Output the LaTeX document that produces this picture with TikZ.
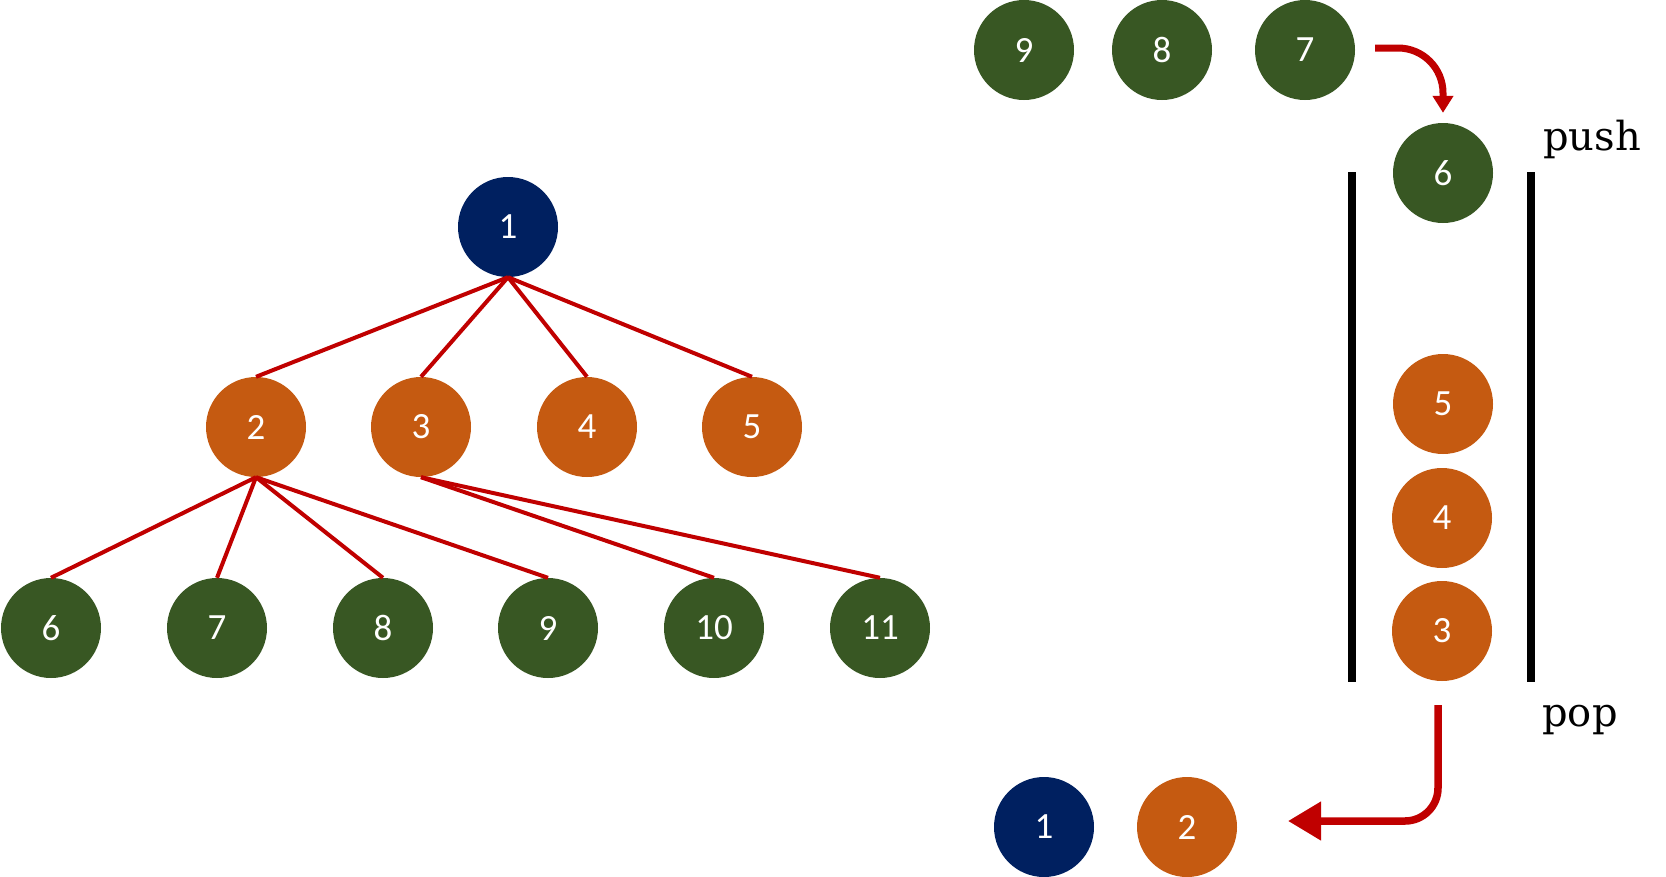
\documentclass[tikz,border=0pt]{standalone}
\usepackage{fontspec}
\setmainfont{DejaVu Serif}
\newfontfamily\digitfont{Carlito}
\usetikzlibrary{arrows.meta}
\definecolor{navyblue}{HTML}{002060}
\definecolor{rust}{HTML}{C55A11}
\definecolor{moss}{HTML}{385723}
\definecolor{darkred}{HTML}{C00000}
\begin{document}
\begin{tikzpicture}[x=1pt, y=-1pt,
    ball/.style={circle, minimum size=100pt, inner sep=0pt, text=white, font=\digitfont\fontsize{37}{37}\selectfont},
    blueball/.style={ball, fill=navyblue},
    orangeball/.style={ball, fill=rust},
    greenball/.style={ball, fill=moss},
    edge/.style={darkred, line width=4pt},
    wall/.style={black, line width=8.5pt},
    word/.style={font=\fontsize{40}{40}\selectfont}]
    \useasboundingbox (0,0) rectangle (1666,876);

    % Nodes
    \node[blueball] (n1) at (508, 227) {1};
    \node[orangeball] (n2) at (256, 427) {2};
    \node[orangeball] (n3) at (421, 427) {3};
    \node[orangeball] (n4) at (587, 427) {4};
    \node[orangeball] (n5) at (752, 427) {5};
    \node[greenball] (n6) at (51, 628) {6};
    \node[greenball] (n7) at (217, 628) {7};
    \node[greenball] (n8) at (383, 628) {8};
    \node[greenball] (n9) at (548, 628) {9};
    \node[greenball] (n10) at (714, 628) {10};
    \node[greenball] (n11) at (880, 628) {11};

    % Queue and stack
    \node[greenball] (q9) at (1024, 50) {9};
    \node[greenball] (q8) at (1162, 50) {8};
    \node[greenball] (q7) at (1305, 50) {7};
    \node[greenball] (s6) at (1443, 173) {6};
    \node[orangeball] (s5) at (1443, 404) {5};
    \node[orangeball] (s4) at (1442, 518) {4};
    \node[orangeball] (s3) at (1442, 631) {3};
    \node[blueball] (o1) at (1044, 827) {1};
    \node[orangeball] (o2) at (1187, 827) {2};
    \node[word] (push) at (1592, 139) {push};
    \node[word] (pop) at (1580, 720) {pop};
    \coordinate (pushstart) at (1375, 48);
    \coordinate (popstart) at (1438, 705);
    \coordinate (popend) at (1288, 821);

    % Edges
    \draw[edge] (n1.south) -- (n2.north);
    \draw[edge] (n1.south) -- (n3.north);
    \draw[edge] (n1.south) -- (n4.north);
    \draw[edge] (n1.south) -- (n5.north);
    \draw[edge] (n2.south) -- (n6.north);
    \draw[edge] (n2.south) -- (n7.north);
    \draw[edge] (n2.south) -- (n8.north);
    \draw[edge] (n2.south) -- (n9.north);
    \draw[edge] (n3.south) -- (n10.north);
    \draw[edge] (n3.south) -- (n11.north);

    % Stack walls
    \draw[wall] (1352, 172) -- (1352, 682);
    \draw[wall] (1531, 172) -- (1531, 682);

    % Push and pop
    \draw[darkred, line width=7pt, rounded corners=45pt, -{Triangle[width=20pt, length=17pt]}, shorten >=10pt]
        (pushstart) -| (s6.north);
    \draw[darkred, line width=7.5pt, rounded corners=33pt, -{Triangle[width=37pt, length=33pt]}]
        (popstart) |- (popend);
\end{tikzpicture}
\end{document}
